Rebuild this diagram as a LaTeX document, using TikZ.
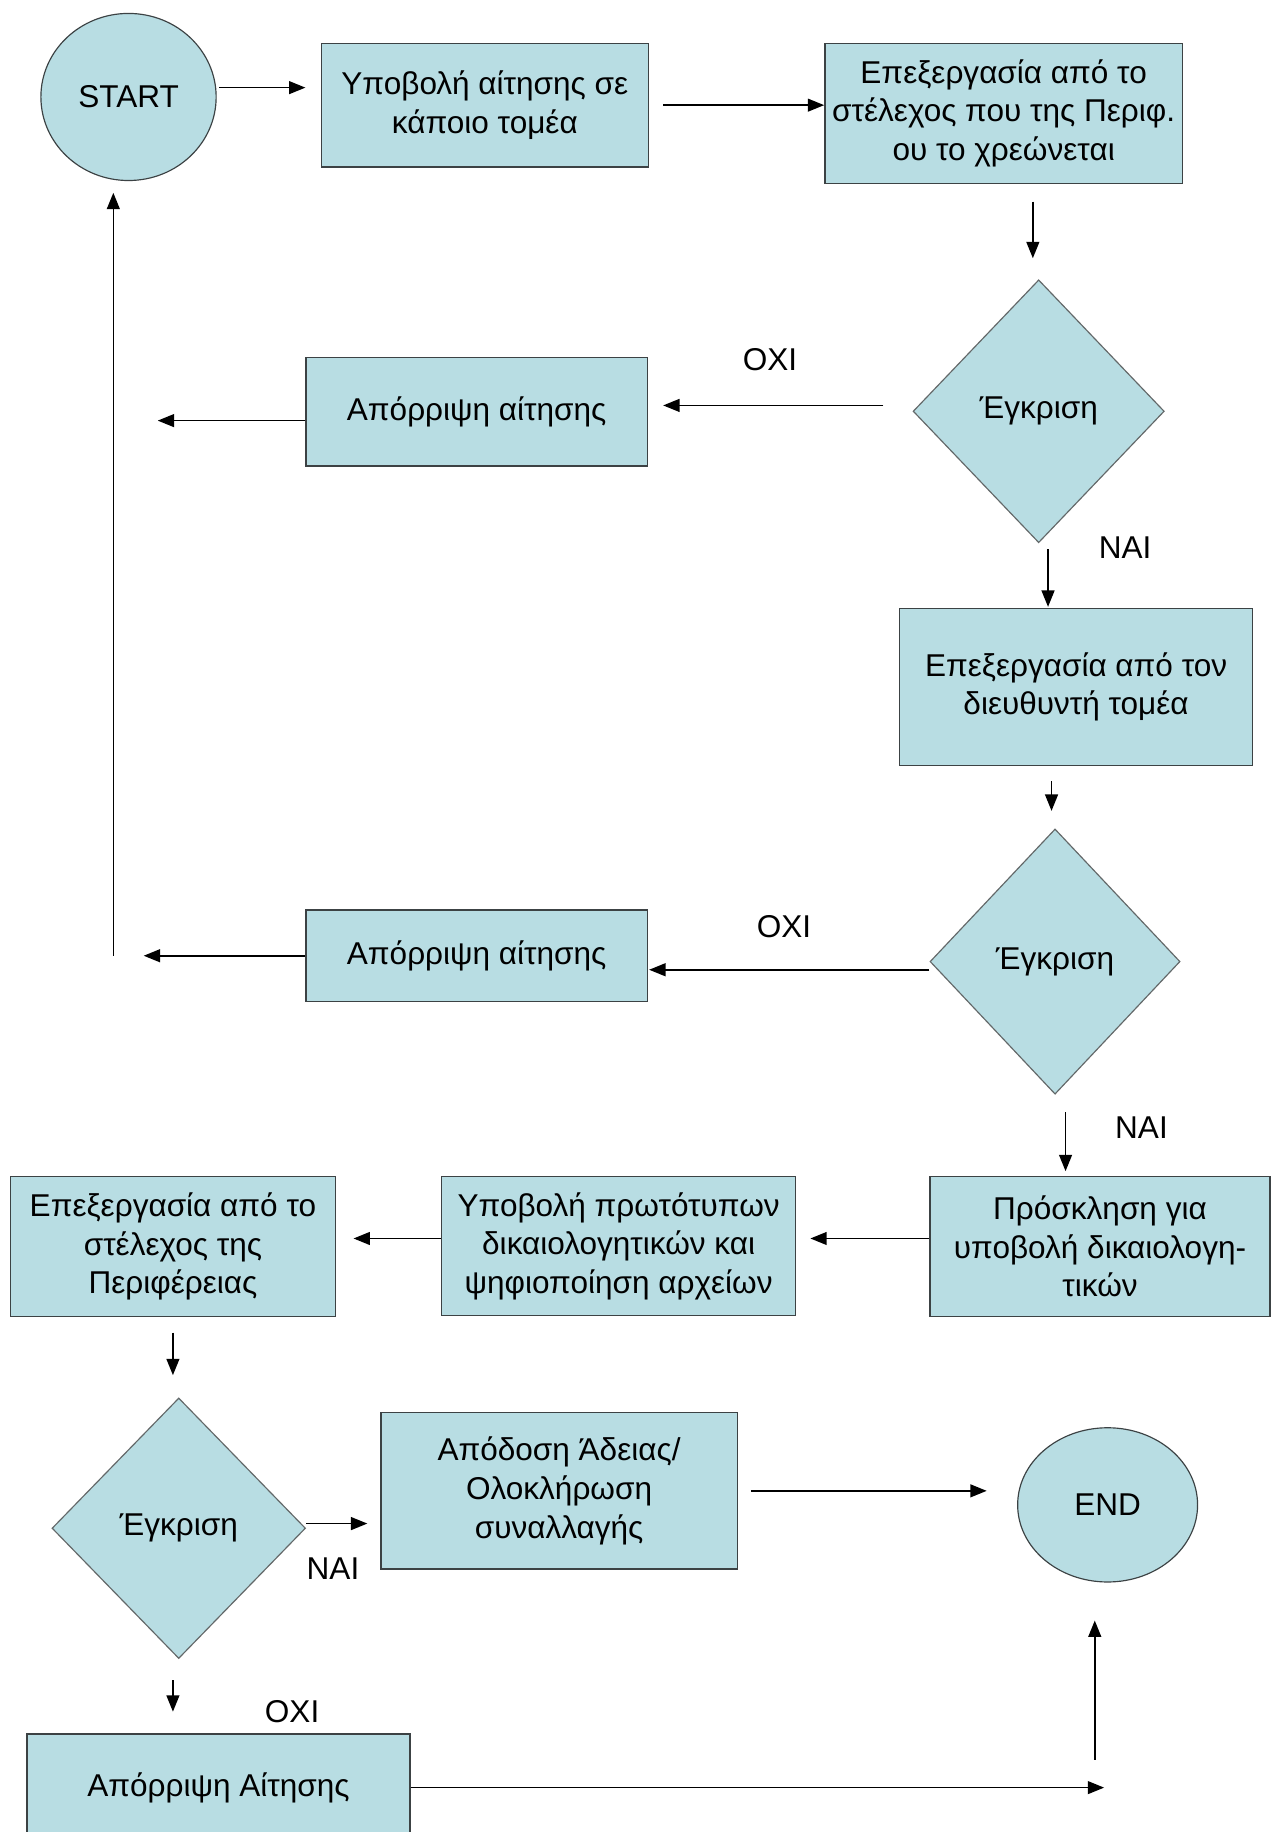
\documentclass[tikz,border=0pt]{standalone}
\usepackage{fontspec}
\setmainfont{Liberation Sans}
\usetikzlibrary{shapes.geometric,arrows.meta,calc}
\definecolor{boxfill}{RGB}{184,221,227}
\definecolor{boxline}{RGB}{60,66,68}
\begin{document}
\begin{tikzpicture}[x=0.5pt,y=-0.5pt,
  every node/.style={font=\fontsize{13.5}{16.5}\selectfont},
  proc/.style={draw=boxline,line width=0.6pt,fill=boxfill,align=center,inner sep=2pt},
  decis/.style={diamond,draw=boxline!80,line width=0.5pt,fill=boxfill,inner sep=0pt,aspect=1},
  term/.style={ellipse,draw=boxline,line width=0.5pt,fill=boxfill,inner sep=0pt},
  lbl/.style={inner sep=0pt},
  arr/.style={line width=0.7pt,-{Triangle[length=7pt,width=5.5pt]}}]
\clip (0,0) rectangle (1088,1568);
\fill[white] (0,0) rectangle (1088,1568);
% nodes
\node[term,minimum width=75pt,minimum height=71.5pt] (start) at (110,83) {START};
\node[proc,minimum width=140pt,minimum height=53pt] (b1) at (415,90) {Υποβολή αίτησης σε\\κάποιο τομέα};
\node[proc,minimum width=153pt,minimum height=60pt] (b2) at (859,97) {Επεξεργασία από το\\στέλεχος που της Περιφ.\\ου το χρεώνεται};
\node[decis,minimum width=107.5pt,minimum height=112.5pt] (d1) at (889,352) {Έγκριση};
\node[proc,minimum width=146pt,minimum height=46.5pt] (r1) at (408,352.5) {Απόρριψη αίτησης};
\node[proc,minimum width=151pt,minimum height=67pt] (b3) at (921,588) {Επεξεργασία από τον\\διευθυντή τομέα};
\node[decis,minimum width=107pt,minimum height=113.5pt] (d2) at (903,823) {Έγκριση};
\node[proc,minimum width=146pt,minimum height=39pt] (r2) at (408,818) {Απόρριψη αίτησης};
\node[proc,minimum width=145.5pt,minimum height=60pt] (b4) at (941.5,1067) {Πρόσκληση για\\υποβολή δικαιολογη-\\τικών};
\node[proc,minimum width=151.5pt,minimum height=59.5pt] (b5) at (529.5,1066.5) {Υποβολή πρωτότυπων\\δικαιολογητικών και\\ψηφιοποίηση αρχείων};
\node[proc,minimum width=139pt,minimum height=60pt] (b6) at (148,1067) {Επεξεργασία από το\\στέλεχος της\\Περιφέρειας};
\node[decis,minimum width=108.5pt,minimum height=111.5pt] (d3) at (153,1308) {Έγκριση};
\node[proc,minimum width=152.5pt,minimum height=67pt] (b7) at (478.5,1276) {Απόδοση Άδειας/\\Ολοκλήρωση\\συναλλαγής};
\node[term,minimum width=77pt,minimum height=66pt] (end) at (948,1288) {END};
\node[proc,minimum width=164pt,minimum height=46pt] (r3) at (187,1530) {Απόρριψη Αίτησης};
% labels
\node[lbl] (l1) at (659,308) {ΟΧΙ};
\node[lbl] (l2) at (963,469) {ΝΑΙ};
\node[lbl] (l3) at (671,793) {ΟΧΙ};
\node[lbl] (l4) at (977,965) {ΝΑΙ};
\node[lbl] (l5) at (285,1343) {ΝΑΙ};
\node[lbl] (l6) at (250,1465) {ΟΧΙ};
% free ends
\coordinate (c1) at (135,360);
\coordinate (c2) at (123,818);
\coordinate (c3) at (97,818);
\coordinate (c4) at (97,165);
\coordinate (c5) at (945,1530);
\coordinate (c6) at (937,1506);
\coordinate (c7) at (937,1387);
% connectors
\draw[arr] ($(start.east)+(2,-8)$) -- ($(b1.west)+(-13,-15)$);
\draw[arr] ($(b1.east)+(12,0)$) -- (b1.east -| b2.west);
\draw[arr] ($(b2.south)+(25,15)$) -- ($(d1.north)+(-5,-18)$);
\draw[arr] ($(d1.west)+(-25,-5)$) -- ($(r1.east)+(13,-5.5)$);
\draw[arr] ($(r1.west)+(0,7.5)$) -- (c1);
\draw[arr] ($(d1.south)+(8,5)$) -- ($(b3.north)+(-24,-1)$);
\draw[arr] ($(b3.south)+(-21,13)$) -- ($(d2.north)+(-3,-15)$);
\draw[arr] ($(d2.west)+(0,7)$) -- ($(r2.east)+(1,12)$);
\draw[arr] (r2.west) -- (c2);
\draw[arr] (c3) -- (c4);
\draw[arr] ($(d2.south)+(9,15)$) -- ($(b4.north)+(-29.5,-4)$);
\draw[arr] ($(b4.west)+(0,-7)$) -- ($(b5.east)+(12,-6.5)$);
\draw[arr] ($(b5.west)+(0,-6.5)$) -- ($(b6.east)+(15,-7)$);
\draw[arr] ($(b6.south)+(0,13)$) -- ($(d3.north)+(-5,-19)$);
\draw[arr] ($(d3.east)+(0,-4)$) -- ($(b7.west)+(-11,28)$);
\draw[arr] ($(b7.east)+(11,0)$) -- ($(end.west)+(-26,-12)$);
\draw[arr] ($(d3.south)+(-5,18)$) -- ($(d3.south)+(-5,45)$);
\draw[arr] (r3.east) -- (c5);
\draw[arr] (c6) -- (c7);
\end{tikzpicture}
\end{document}
